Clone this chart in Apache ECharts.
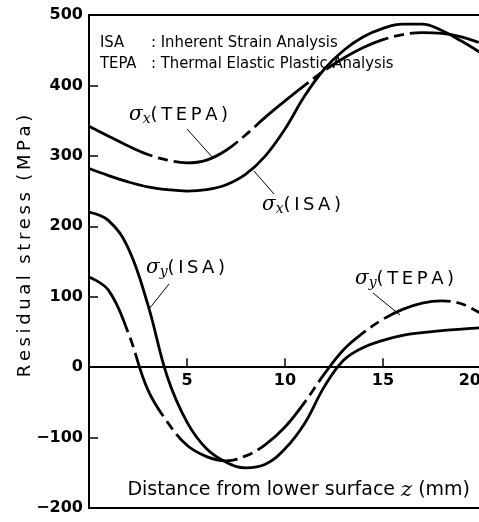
<!DOCTYPE html>
<html>
<head>
<meta charset="utf-8">
<script src="https://cdn.jsdelivr.net/npm/echarts@6/dist/echarts.min.js"></script>
<style>
  html, body { margin: 0; padding: 0; background: #fff; }
  #main { width: 479px; height: 522px; }
</style>
</head>
<body>
<div id="main"></div>
<script>
// distance from lower surface z (mm)
var distance = [0, 1, 2, 3, 4, 5, 6, 7, 8, 9, 10, 11, 12, 13, 14, 15, 16, 17, 18, 19, 20];
// residual stress (MPa)
var sxISA  = [282, 272, 263, 256, 252, 250, 252, 259, 274, 300, 338, 385, 423, 450, 469, 481, 487, 487, 478, 463, 446];
var sxTEPA = [342, 328, 314, 302, 294, 290, 294, 308, 330, 355, 378, 400, 421, 439, 454, 465, 472, 475, 474, 469, 460];
var syISA  = [220, 208, 169, 89, -14, -78, -116, -135, -143, -138, -116, -80, -28, 10, 28, 38, 45, 49, 52, 54, 56];
var syTEPA = [128, 109, 49, -32, -78, -111, -127, -133, -126, -110, -85, -50, -10, 25, 49, 68, 82, 91, 94, 90, 76];
var yTicks = [-200, -100, 0, 100, 200, 300, 400, 500];

var chartDom = document.getElementById("main");
var myChart = echarts.init(chartDom);
var option;

var gridTop = 15, gridBottom = 14, H = 522;
var yMin = yTicks[0], yMax = yTicks[yTicks.length - 1];
// lift the x axis from the grid bottom up to the zero line
var zeroOffset = -(H - gridTop - gridBottom) * (0 - yMin) / (yMax - yMin);

function pairs(ys) {
  return distance.map(function (z, i) { return [z, ys[i]]; });
}
function spaced(s) {
  return s.split("").join("\u2009");
}

var solid = { color: "#000", width: 2.8, type: "solid" };
var chain = { color: "#000", width: 2.8, type: [70, 6, 10, 6] };

var sigma = {
  g: { fontFamily: "DejaVu Serif", fontStyle: "italic", fontSize: 20, color: "#000" },
  sub: { fontFamily: "DejaVu Serif", fontStyle: "italic", fontSize: 14, color: "#000", padding: [9, 0, 0, 0] },
  p: { fontFamily: "DejaVu Sans", fontSize: 18, color: "#000" }
};

function curveLabel(x, y, sub, name) {
  return {
    type: "text", left: x, top: y,
    style: { text: "{g|σ}{sub|" + sub + "}{p|" + spaced("(" + name + ")") + "}", rich: sigma }
  };
}
function leader(x1, y1, x2, y2) {
  return { type: "line", shape: { x1: x1, y1: y1, x2: x2, y2: y2 }, style: { stroke: "#000", lineWidth: 1 } };
}

var noteFont = "16.5px 'Liberation Sans Narrow', 'DejaVu Sans Condensed', sans-serif";

option = {
  backgroundColor: "#fff",
  animation: false,
  grid: {
    left: 89, right: -2, top: gridTop, bottom: gridBottom, outerBoundsMode: "none",
    show: true, borderColor: "#000", borderWidth: 2
  },
  xAxis: {
    type: "value", min: 0, max: 20, interval: 5,
    offset: zeroOffset,
    splitLine: { show: false },
    axisLine: { onZero: false, lineStyle: { color: "#000", width: 2 } },
    axisTick: { inside: true, length: 9, lineStyle: { color: "#000", width: 1.5 } },
    axisLabel: {
      margin: 6, color: "#000", fontFamily: "DejaVu Sans", fontWeight: "bold", fontSize: 16,
      showMinLabel: false, alignMaxLabel: "right"
    }
  },
  yAxis: {
    type: "value", min: yMin, max: yMax, interval: 100,
    splitLine: { show: false },
    axisLine: { lineStyle: { color: "#000", width: 2 } },
    axisTick: { inside: true, length: 9, lineStyle: { color: "#000", width: 1.5 } },
    axisLabel: {
      margin: 6, color: "#000", fontFamily: "DejaVu Sans", fontWeight: "bold", fontSize: 16,
      formatter: function (v) { return v < 0 ? "\u2212" + (-v) : String(v); }
    }
  },
  graphic: [
    { type: "text", left: 100, top: 34, style: { text: "ISA", font: noteFont, fill: "#000" } },
    { type: "text", left: 151, top: 34, style: { text: ": Inherent Strain Analysis", font: noteFont, fill: "#000" } },
    { type: "text", left: 100, top: 55, style: { text: "TEPA", font: noteFont, fill: "#000" } },
    { type: "text", left: 151, top: 55, style: { text: ": Thermal Elastic Plastic Analysis", font: noteFont, fill: "#000" } },
    curveLabel(129, 105, "x", "TEPA"),
    curveLabel(262, 195, "x", "ISA"),
    curveLabel(146, 258, "y", "ISA"),
    curveLabel(355, 269, "y", "TEPA"),
    leader(187, 129, 213, 158),
    leader(254, 171, 274, 194),
    leader(169, 284, 149, 309),
    leader(373, 293, 400, 315),
    {
      type: "text", right: 9, top: 480,
      style: {
        text: "{a|Distance from lower surface }{z|z}{a| (mm)}",
        rich: {
          a: { fontFamily: "DejaVu Sans", fontSize: 19, color: "#000" },
          z: { fontFamily: "DejaVu Serif", fontStyle: "italic", fontSize: 21, color: "#000" }
        }
      }
    },
    {
      type: "text", x: 25, y: 246, rotation: Math.PI / 2,
      style: {
        text: spaced("Residual") + "  " + spaced("stress") + "  " + spaced("(MPa)"),
        fontFamily: "DejaVu Sans", fontSize: 18, fill: "#000",
        align: "center", verticalAlign: "middle"
      }
    }
  ],
  series: [
    { name: "σx(ISA)", type: "line", data: pairs(sxISA), smooth: 0.4, showSymbol: false, lineStyle: solid },
    { name: "σx(TEPA)", type: "line", data: pairs(sxTEPA), smooth: 0.4, showSymbol: false, lineStyle: chain },
    { name: "σy(ISA)", type: "line", data: pairs(syISA), smooth: 0.4, showSymbol: false, lineStyle: solid },
    { name: "σy(TEPA)", type: "line", data: pairs(syTEPA), smooth: 0.4, showSymbol: false, lineStyle: chain }
  ]
};

option && myChart.setOption(option);
</script>
</body>
</html>
